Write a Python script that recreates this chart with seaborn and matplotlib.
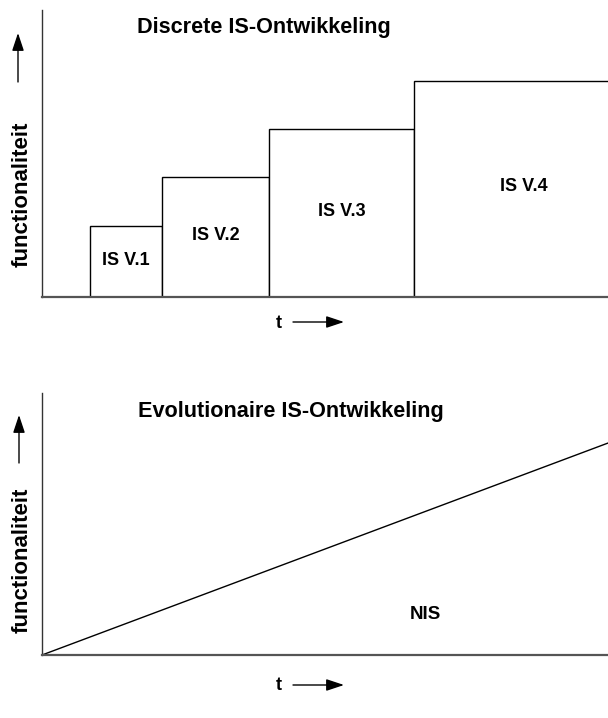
import numpy as np
import pandas as pd
import seaborn as sns
import matplotlib.pyplot as plt

# bovenste paneel: losse versies (randen in t, hoogte = functionaliteit)
versies = ['IS V.1', 'IS V.2', 'IS V.3', 'IS V.4']
t_randen = [8.5, 21.2, 40.1, 65.7, 105.0]
functionaliteit = [24.7, 41.8, 58.5, 75.3]

# onderste paneel: doorlopende groei
t_evo = [0, 100]
f_evo = [0, 80.9]

sns.set_style('white')
plt.rcParams['font.family'] = ['Liberation Sans', 'DejaVu Sans']
plt.rcParams['font.weight'] = 'bold'
plt.rcParams['text.color'] = 'black'

W, H = 608, 718
fig = plt.figure(figsize=(W / 100, H / 100), dpi=100)


def fx(px):
    return px / W


def fy(py):
    return 1 - py / H


ax1 = fig.add_axes([fx(42), fy(297), 1 - fx(42), (297 - 10) / H])
ax2 = fig.add_axes([fx(42), fy(655), 1 - fx(42), (655 - 393) / H])

df = pd.DataFrame({
    'versie': versies,
    'midden': [(a + b) / 2 for a, b in zip(t_randen[:-1], t_randen[1:])],
    'f': functionaliteit,
})
sns.histplot(data=df, x='midden', weights='f', bins=t_randen, ax=ax1,
             color='white', edgecolor='black', linewidth=1.0, alpha=1)

# labels midden in het zichtbare deel van elke balk
for i, r in df.iterrows():
    links, rechts = t_randen[i], min(t_randen[i + 1], 100)
    xm = (links + rechts) / 2 + (2.3 if rechts == 100 else 0)
    ax1.text(xm, r['f'] * 0.51, r['versie'], ha='center', va='center',
             fontsize=13, fontweight='bold', color='black')

sns.lineplot(x=t_evo, y=f_evo, ax=ax2, color='black', linewidth=1.0)
ax2.text(67.8, 15.6, 'NIS', ha='center', va='center', fontsize=13.5,
         fontweight='bold', color='black')

for ax in (ax1, ax2):
    ax.set_xlim(0, 100)
    ax.set_ylim(0, 100)
    ax.set_xticks([])
    ax.set_yticks([])
    ax.set_xlabel('')
    ax.set_ylabel('')
    sns.despine(ax=ax, top=True, right=True)
    ax.spines['left'].set_color('#333333')
    ax.spines['left'].set_linewidth(1.0)
    ax.spines['bottom'].set_color('#555555')
    ax.spines['bottom'].set_linewidth(1.6)

fig.text(fx(137), fy(27), 'Discrete IS-Ontwikkeling', ha='left', va='center',
         fontsize=15.6, fontweight='bold', color='black')
fig.text(fx(138), fy(412), 'Evolutionaire IS-Ontwikkeling', ha='left', va='center',
         fontsize=15.6, fontweight='bold', color='black')

for yc in (194, 560):
    fig.text(fx(22), fy(yc), 'functionaliteit', rotation=90, ha='center', va='center',
             fontsize=16, fontweight='bold', color='black')

pijl = dict(arrowstyle='-|>,head_length=0.6,head_width=0.2', color='black',
            lw=1.0, mutation_scale=18, shrinkA=0, shrinkB=0)
# pijlen omhoog
fig.add_artist(plt.Annotation('', xy=(fx(18), fy(33)), xytext=(fx(18), fy(82)),
                              xycoords='figure fraction', arrowprops=pijl))
fig.add_artist(plt.Annotation('', xy=(fx(19), fy(415)), xytext=(fx(19), fy(463)),
                              xycoords='figure fraction', arrowprops=pijl))
# t-pijlen
for yc in (323, 686):
    fig.text(fx(279), fy(yc), 't', ha='center', va='center', fontsize=13,
             fontweight='bold', color='black')
    fig.add_artist(plt.Annotation('', xy=(fx(344), fy(yc - 1)), xytext=(fx(293), fy(yc - 1)),
                                  xycoords='figure fraction', arrowprops=pijl))

fig.savefig('out.png', dpi=100)
